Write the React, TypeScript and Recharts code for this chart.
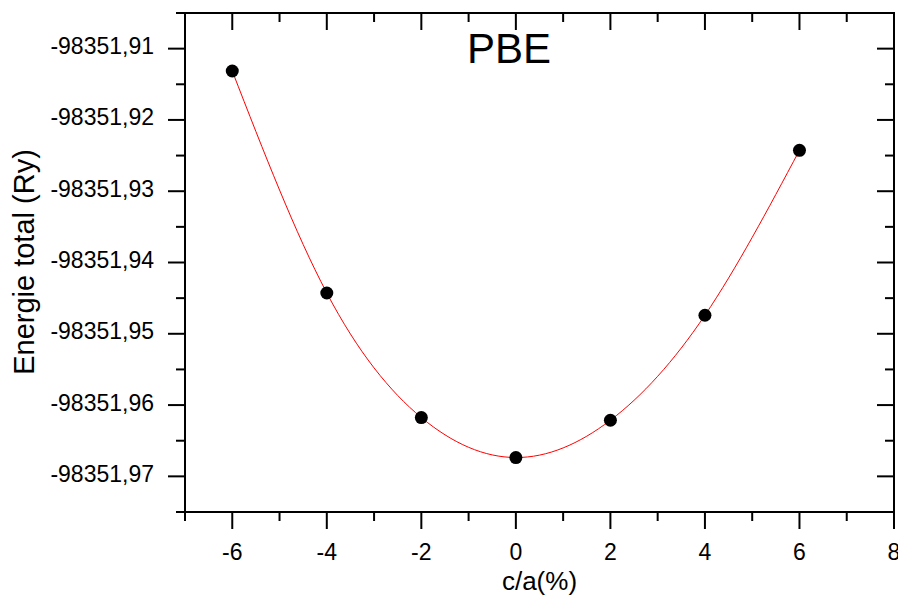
import React from "react";
import { ComposedChart, Line, Scatter, XAxis, YAxis } from "recharts";

// c/a deformation (%) and total energy (Ry)
const strain = [-6, -4, -2, 0, 2, 4, 6];
const energy = [
  -98351.91314, -98351.94428, -98351.96175, -98351.96736, -98351.96213,
  -98351.9474, -98351.92426,
];

const xTicks = [-7, -6, -5, -4, -3, -2, -1, 0, 1, 2, 3, 4, 5, 6, 7, 8];
const xLabels = [-6, -4, -2, 0, 2, 4, 6, 8];
const yTicks = [
  -98351.975, -98351.97, -98351.965, -98351.96, -98351.955, -98351.95,
  -98351.945, -98351.94, -98351.935, -98351.93, -98351.925, -98351.92,
  -98351.915, -98351.91, -98351.905,
];
const yLabels = [
  -98351.97, -98351.96, -98351.95, -98351.94, -98351.93, -98351.92, -98351.91,
];

const data = strain.map((x, i) => ({ x, y: energy[i] }));

const FONT = '"Liberation Sans", Arial, sans-serif';
const MAJOR = 17;
const MINOR = 9;

const isMajor = (list: number[], v: number) =>
  list.some((m) => Math.abs(m - v) < 1e-6);
const fmtY = (v: number) => v.toFixed(2).replace(".", ",");

const LeftTick = ({ x, y, payload }: any) => {
  const major = isMajor(yLabels, payload.value);
  return (
    <g>
      <line x1={x} x2={x - (major ? MAJOR : MINOR)} y1={y} y2={y} stroke="#000" strokeWidth={2} />
      {major && (
        <text x={x - 31} y={y + 5.5} textAnchor="end" fontSize={23} fontFamily={FONT} fill="#000">
          {fmtY(payload.value)}
        </text>
      )}
    </g>
  );
};

const RightTick = ({ x, y, payload }: any) => {
  const major = isMajor(yLabels, payload.value);
  return (
    <line x1={x} x2={x - (major ? MAJOR : MINOR)} y1={y} y2={y} stroke="#000" strokeWidth={2} />
  );
};

const BottomTick = ({ x, y, payload }: any) => {
  const major = isMajor(xLabels, payload.value);
  return (
    <g>
      <line x1={x} x2={x} y1={y} y2={y + (major ? MAJOR : MINOR)} stroke="#000" strokeWidth={2} />
      {major && (
        <text x={x} y={y + 47.5} textAnchor="middle" fontSize={23} fontFamily={FONT} fill="#000">
          {payload.value}
        </text>
      )}
    </g>
  );
};

const TopTick = ({ x, y, payload }: any) => {
  const major = isMajor(xLabels, payload.value);
  return (
    <line x1={x} x2={x} y1={y} y2={y + (major ? MAJOR : MINOR)} stroke="#000" strokeWidth={2} />
  );
};

const axisLine = { stroke: "#000", strokeWidth: 2, strokeLinecap: "square" as const };

export default function App() {
  return (
    <div style={{ position: "absolute", left: 0, top: 0, background: "#fff" }}>
      <ComposedChart
        width={898}
        height={604}
        data={data}
        margin={{ top: 12, right: 3, bottom: 91, left: 184 }}
      >
        <XAxis
          xAxisId="b"
          dataKey="x"
          type="number"
          domain={[-7, 8]}
          ticks={xTicks}
          interval={0}
          allowDataOverflow
          height={1}
          tickSize={0}
          tickMargin={0}
          tickLine={false}
          axisLine={axisLine}
          tick={<BottomTick />}
        />
        <XAxis
          xAxisId="t"
          orientation="top"
          dataKey="x"
          type="number"
          domain={[-7, 8]}
          ticks={xTicks}
          interval={0}
          allowDataOverflow
          height={1}
          tickSize={0}
          tickMargin={0}
          tickLine={false}
          axisLine={axisLine}
          tick={<TopTick />}
        />
        <YAxis
          yAxisId="l"
          type="number"
          domain={[-98351.975, -98351.905]}
          ticks={yTicks}
          interval={0}
          allowDataOverflow
          width={1}
          tickSize={0}
          tickMargin={0}
          tickLine={false}
          axisLine={axisLine}
          tick={<LeftTick />}
        />
        <YAxis
          yAxisId="r"
          orientation="right"
          type="number"
          domain={[-98351.975, -98351.905]}
          ticks={yTicks}
          interval={0}
          allowDataOverflow
          width={1}
          tickSize={0}
          tickMargin={0}
          tickLine={false}
          axisLine={axisLine}
          tick={<RightTick />}
        />
        <Line
          xAxisId="b"
          yAxisId="l"
          type="natural"
          dataKey="y"
          stroke="#ff0000"
          strokeWidth={1}
          dot={false}
          isAnimationActive={false}
        />
        <Scatter
          xAxisId="b"
          yAxisId="l"
          dataKey="y"
          fill="#000"
          isAnimationActive={false}
          shape={(p: any) => <circle cx={p.cx} cy={p.cy} r={6.5} fill="#000" />}
        />
        <text x={509} y={63} textAnchor="middle" fontSize={42} fontFamily={FONT} fill="#000">
          PBE
        </text>
        <text
          x={34}
          y={262}
          transform="rotate(-90 34 262)"
          textAnchor="middle"
          fontSize={29}
          fontFamily={FONT}
          fill="#000"
        >
          Energie total (Ry)
        </text>
        <text x={539.5} y={590} textAnchor="middle" fontSize={26} fontFamily={FONT} fill="#000">
          c/a(%)
        </text>
      </ComposedChart>
    </div>
  );
}
